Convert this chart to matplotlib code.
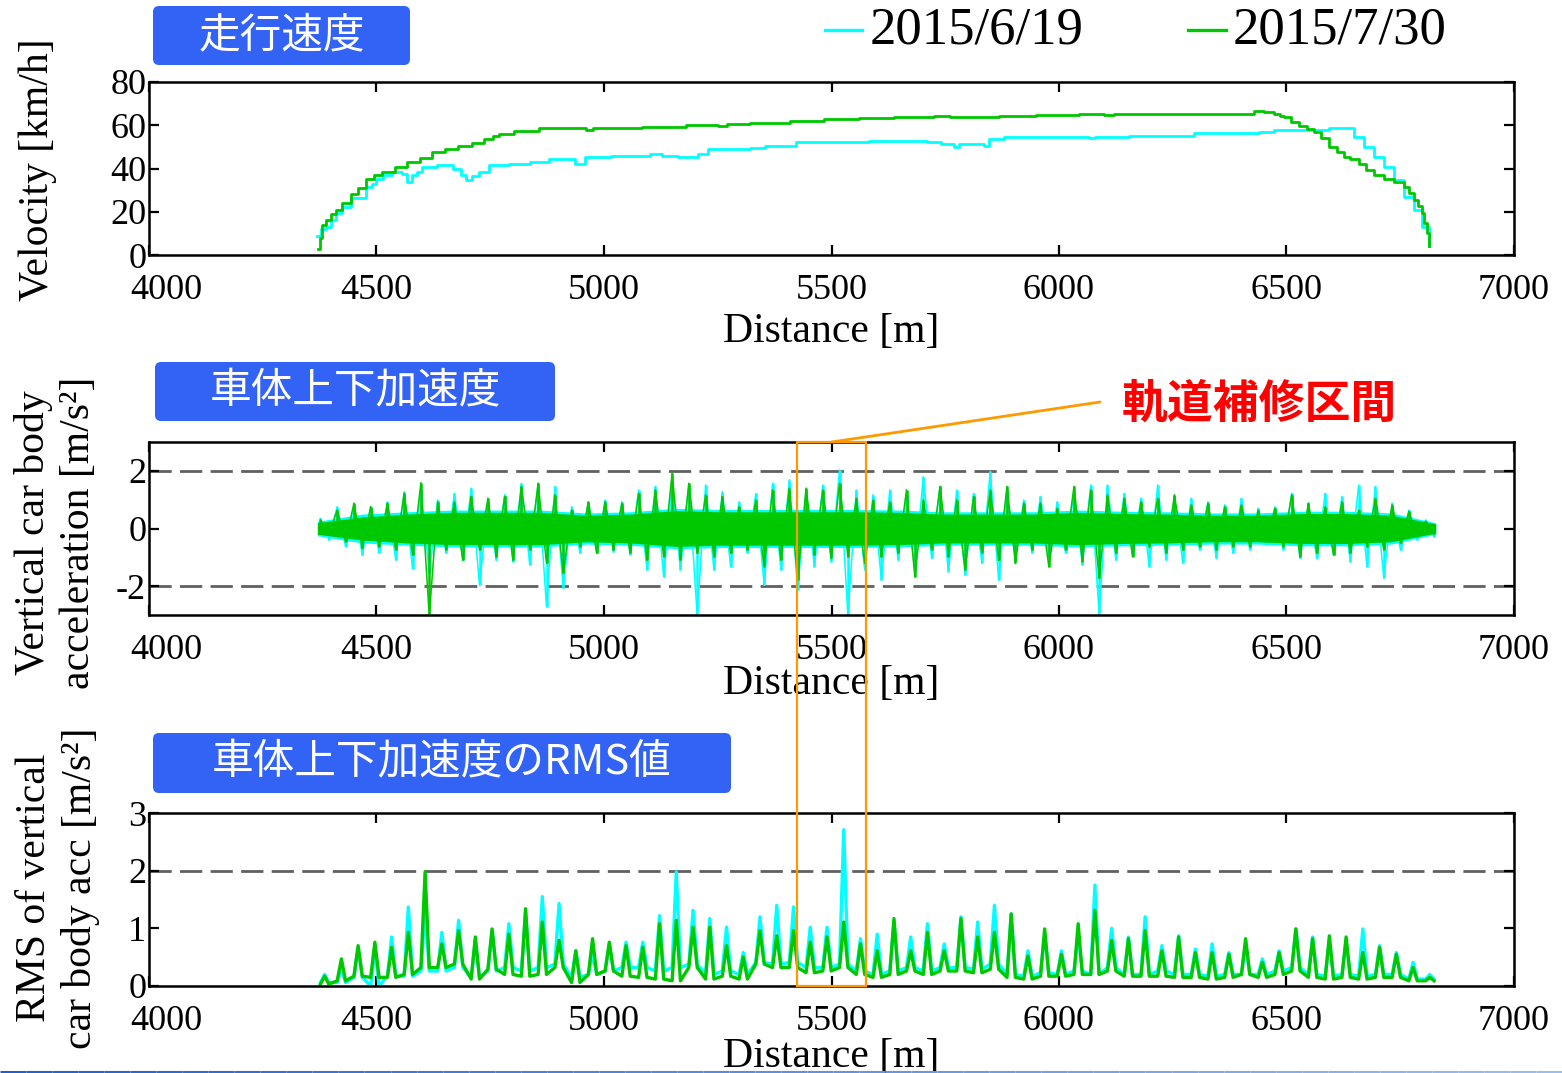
import numpy as np
import matplotlib
matplotlib.use("Agg")
import matplotlib.pyplot as plt
import matplotlib.transforms as mtransforms
from matplotlib.patches import FancyBboxPatch, Rectangle, ConnectionPatch
from matplotlib.lines import Line2D
from matplotlib.collections import LineCollection

plt.rcParams["font.family"] = ["Liberation Serif", "DejaVu Serif"]
plt.rcParams["axes.unicode_minus"] = False
CJK = ["Noto Sans CJK JP", "DejaVu Sans"]

# ---------------- data ----------------
series_labels = ["2015/6/19", "2015/7/30"]
x_ticks = [4000, 4500, 5000, 5500, 6000, 6500, 7000]

# running speed [km/h] at distance [m] (stepwise record)
vel_jun_dist = [4370, 4378, 4388, 4400, 4410, 4425, 4444, 4455, 4465, 4477, 4490, 4500, 4515,
                4533, 4555, 4567, 4578, 4590, 4600, 4634, 4668, 4685, 4697, 4710, 4725, 4747,
                4792, 4837, 4880, 4925, 4936, 4959, 5015, 5100, 5128, 5162, 5207, 5229, 5297,
                5320, 5353, 5385, 5421, 5445, 5480, 5582, 5692, 5710, 5740, 5769, 5780, 5835,
                5846, 5879, 6044, 6066, 6080, 6154, 6264, 6297, 6429, 6440, 6473, 6571, 6593,
                6626, 6648, 6670, 6692, 6714, 6736, 6758, 6780, 6797, 6813]
vel_jun = [9, 12, 13, 16, 19.3, 22, 26.2, 26.5, 26.5, 31.5, 33, 35.3, 37, 38.4, 37.6, 33.8,
           36.9, 38.5, 40.7, 41.4, 39.9, 37, 34.9, 36.5, 38.4, 41.4, 42.2, 43, 44.5, 44.5, 42.2,
           45.3, 46, 46.5, 46, 45.3, 46.8, 49.1, 49.1, 49.6, 50.6, 50.6, 52.1, 52.1, 52.3, 52.9,
           52.9, 52.4, 51.5, 49.8, 51.2, 50.6, 53.7, 54.4, 54.4, 53.9, 54.6, 55.2, 55.2, 56.3,
           56.3, 56.8, 57.8, 57.8, 58.7, 58.7, 54.4, 49.8, 45.2, 40.7, 34.6, 26.9, 20.8, 13.1, 4]

vel_jul_dist = [4372, 4375, 4380, 4388, 4400, 4410, 4425, 4444, 4460, 4477, 4495, 4511, 4540,
                4567, 4595, 4623, 4650, 4680, 4710, 4736, 4755, 4769, 4803, 4858, 4950, 4960,
                4975, 5083, 5160, 5180, 5240, 5250, 5270, 5320, 5409, 5484, 5560, 5637, 5725,
                5760, 5868, 5900, 5950, 6044, 6080, 6100, 6120, 6198, 6300, 6418, 6429, 6450,
                6473, 6485, 6495, 6510, 6527, 6545, 6560, 6575, 6593, 6610, 6626, 6640, 6659,
                6675, 6692, 6715, 6736, 6758, 6770, 6780, 6790, 6797, 6803, 6808, 6813]
vel_jul = [3, 8, 14, 16, 19, 21, 24, 28, 31, 35, 37, 38.4, 40.5, 43, 45, 47.5, 49, 50.6, 52,
           53.7, 55, 56, 57.5, 58.6, 58.6, 58, 58.6, 59, 59.3, 60, 60.3, 59.8, 60.5, 61, 61.8,
           62.9, 63.3, 63.6, 64.1, 63.8, 64.1, 64.4, 64.6, 65.1, 65.3, 64.9, 65.2, 65.0, 65.0,
           65.0, 66.7, 66.2, 65.0, 64.2, 63.6, 61.5, 59.8, 58.4, 56.7, 54, 49.8, 47.5, 45.3,
           44.5, 42.2, 39.5, 36.9, 35, 33.8, 31.5, 28.5, 25.4, 22.5, 19.4, 15, 10, 4]

# vertical car-body acceleration: positive / negative peaks per ~37 m block [m/s^2]
acc_jun_pos = [.35, .76, .80, .76, .93, 1.28, 1.34, .99, 1.22, 1.40, .88, 1.17, 1.57, 1.57,
               1.46, .76, .93, .99, .93, 1.34, 1.46, 1.57, 1.51, 1.51, 1.28, .93, 1.22, 1.57,
               1.69, 1.34, 1.51, 2.03, 1.34, 1.17, 1.34, 1.17, 1.80, 1.46, 1.34, 1.22, 1.98,
               1.34, .99, 1.11, .93, 1.22, 1.51, 1.51, 1.22, 1.05, 1.51, 1.11, 1.05, .93, .82,
               1.05, .70, .76, 1.22, .88, 1.22, 1.11, 1.51, 1.46, .88, .64, .30]
acc_jun_neg = [-.40, -.63, -.92, -.86, -1.10, -1.39, -1.56, -.86, -1.10, -1.97, -1.10, -1.15,
               -1.27, -2.72, -2.08, -.86, -.86, -.81, -.92, -1.44, -1.68, -1.44, -3.05, -1.44,
               -1.33, -.86, -1.97, -1.44, -2.14, -1.33, -1.15, -3.05, -1.44, -1.79, -1.10,
               -1.44, -1.04, -1.50, -1.62, -1.21, -1.79, -1.10, -.86, -.98, -.86, -1.27, -2.95,
               -1.10, -.92, -1.33, -1.10, -1.21, -.75, -1.04, -.86, -.75, -.57, -.75, -1.04,
               -1.04, -.92, -1.15, -1.33, -1.73, -.75, -.40, -.30]
acc_jul_pos = [.30, .64, .88, .76, .88, 1.22, 1.59, .93, .93, 1.11, 1.05, 1.11, 1.46, 1.57,
               1.17, .64, .93, .93, .88, 1.22, 1.34, 1.92, 1.57, 1.17, 1.11, .76, .99, 1.34,
               1.40, 1.40, 1.34, 1.57, 1.05, .99, .93, 1.34, .99, 1.46, .99, 1.11, 1.34, 1.46,
               .88, .88, .70, 1.46, 1.34, 1.17, 1.05, .93, 1.05, 1.17, .82, .88, .76, .82, .64,
               .70, 1.17, .88, .76, .93, .64, 1.05, .82, .59, .25]
acc_jul_neg = [-.23, -.46, -.69, -.63, -.75, -.92, -3.05, -.75, -1.10, -.75, -.98, -1.10,
               -.75, -1.21, -1.56, -.63, -.86, -.75, -.86, -1.10, -.98, -1.10, -.86, -.98,
               -.86, -.75, -1.33, -1.10, -1.79, -.92, -1.04, -.98, -1.21, -.98, -.86, -1.68,
               -.75, -.98, -1.44, -.86, -1.10, -1.21, -.75, -1.33, -.75, -1.15, -1.73, -.86,
               -.98, -.63, -.86, -.75, -.63, -.75, -.63, -.63, -.46, -.63, -.98, -.86, -.92,
               -.86, -.63, -.75, -.52, -.28, -.20]
# half-width of the continuous vibration band, every ~98 m [m/s^2]
band_jun = [.25, .50, .58, .64, .64, .64, .54, .58, .70, .66, .66, .66, .66, .64, .58, .58,
            .58, .64, .60, .58, .54, .54, .60, .60, .54, .20]
band_jul = [.20, .40, .50, .56, .56, .56, .46, .50, .62, .58, .58, .58, .58, .56, .50, .50,
            .50, .56, .52, .50, .46, .46, .52, .52, .46, .16]

# RMS of vertical car-body acceleration: local maxima / minima per ~37 m block [m/s^2]
rms_jun_hi = [.20, .32, .67, .64, .85, 1.37, 1.31, .93, 1.14, .79, .96, 1.08, 1.28, 1.55,
              1.43, .61, .55, .73, .76, .76, 1.22, 1.98, 1.31, 1.17, 1.02, .58, 1.20, 1.40,
              1.37, 1.02, 1.02, 2.71, .82, .90, 1.11, .85, 1.08, .73, 1.20, 1.11, 1.40, 1.25,
              .61, .90, .61, .87, 1.75, 1.00, .85, 1.20, .70, .87, .64, .73, .58, .73, .47,
              .61, .99, .85, .79, .76, .99, .70, .58, .41, .20]
rms_jun_lo = [.06, .06, .15, .00, .17, .17, .26, .26, .32, .15, .26, .32, .26, .32, .38, .15,
              .20, .26, .32, .32, .26, .32, .38, .20, .26, .20, .41, .38, .41, .32, .32, .38,
              .26, .20, .26, .32, .26, .32, .32, .29, .38, .20, .17, .23, .20, .26, .20, .32,
              .20, .20, .26, .20, .20, .17, .20, .20, .20, .26, .32, .20, .17, .20, .17, .20,
              .20, .12, .12]
rms_jul_hi = [.17, .47, .70, .76, .67, .93, 1.98, .73, .96, .85, .99, .90, 1.34, 1.11, .79,
              .61, .82, .76, .70, .67, 1.08, 1.14, 1.02, 1.02, .70, .50, .96, .87, .96, .76,
              .85, 1.11, .73, .61, 1.17, .61, .93, .61, 1.17, .85, .93, 1.25, .52, .99, .55,
              1.08, 1.31, .79, .82, .96, .61, .85, .58, .58, .55, .82, .41, .58, .99, .82, .87,
              .85, .58, .67, .55, .32, .15]
rms_jul_lo = [.03, .09, .17, .15, .15, .20, .32, .32, .38, .12, .29, .20, .17, .20, .32, .06,
              .20, .26, .17, .15, .12, .09, .32, .12, .17, .12, .38, .32, .32, .23, .26, .32,
              .20, .15, .20, .26, .20, .26, .26, .23, .29, .15, .12, .17, .17, .20, .20, .26,
              .17, .17, .17, .15, .15, .12, .15, .20, .15, .20, .26, .15, .12, .15, .12, .15,
              .15, .09, .09]

repair_section = (5425, 5576)   # track repair section [m]

C_JUN = "#00FFFF"
C_JUL = "#00C800"

# ---------------- figure ----------------
W, H = 1562, 1073
fig = plt.figure(figsize=(W / 100, H / 100), dpi=100)


def frac_rect(x0, x1, ytop, ybot):
    return [x0 / W, 1 - ybot / H, (x1 - x0) / W, (ybot - ytop) / H]


ax1 = fig.add_axes(frac_rect(149, 1514, 82, 255))
ax2 = fig.add_axes(frac_rect(149, 1514, 442, 615))
ax3 = fig.add_axes(frac_rect(149, 1514, 813, 986))

shift_first = mtransforms.ScaledTranslation(17 / 100, 0, fig.dpi_scale_trans)
for ax, lp in ((ax1, 4), (ax2, -2), (ax3, -1)):
    ax.set_xlim(4000, 7000)
    ax.set_xticks(x_ticks)
    ax.tick_params(direction="in", length=7, width=1.6, top=True, right=True,
                   labelsize=26, color="black")
    ax.tick_params(axis="x", pad=14)
    ax.tick_params(axis="y", pad=2)
    for s in ax.spines.values():
        s.set_linewidth(1.8)
    ax.set_xlabel("Distance [m]", fontsize=30, labelpad=lp)
    first = ax.get_xticklabels()[0]
    first.set_transform(first.get_transform() + shift_first)

# --- velocity ---
ax1.set_ylim(0, 80)
ax1.set_yticks([0, 20, 40, 60, 80])
ax1.plot(vel_jun_dist, vel_jun, color=C_JUN, lw=2.0, drawstyle="steps-post")
ax1.plot(vel_jul_dist, vel_jul, color=C_JUL, lw=2.0, drawstyle="steps-post")

# --- acceleration ---
ax2.set_ylim(-3, 3)
ax2.set_yticks([-2, 0, 2])
for yv in (2, -2):
    ax2.axhline(yv, color="#606060", lw=2.0, dashes=(8, 3), zorder=1)

nblk = len(acc_jun_pos)
blk = np.linspace(4386, 6815, nblk)
q = (blk[1] - blk[0]) / 4
zig_x = np.column_stack((blk - q, blk + q)).ravel()
band_x = np.linspace(4370, 6828, len(band_jun))

for band, pos, neg, col in ((band_jun, acc_jun_pos, acc_jun_neg, C_JUN),
                            (band_jul, acc_jul_pos, acc_jul_neg, C_JUL)):
    b = np.array(band)
    ax2.fill_between(band_x, -b, b, color=col, lw=0, zorder=2)
    ax2.plot(zig_x, np.column_stack((pos, neg)).ravel(), color=col, lw=1.1, zorder=2)
    ax2.vlines(blk - q, 0, pos, color=col, lw=1.8, zorder=2)
    ax2.vlines(blk + q, neg, 0, color=col, lw=1.8, zorder=2)

# --- RMS ---
ax3.set_ylim(0, 3)
ax3.set_yticks([0, 1, 2, 3])
ax3.axhline(2, color="#606060", lw=2.0, dashes=(8, 3), zorder=1)
tri_x = np.column_stack((blk - q, blk, blk + q)).ravel()
for hi, lo, col in ((rms_jun_hi, rms_jun_lo, C_JUN), (rms_jul_hi, rms_jul_lo, C_JUL)):
    tri_y = np.column_stack((lo, hi, lo)).ravel()
    ax3.plot(tri_x, tri_y, color=col, lw=2.4, zorder=2)

# --- y labels ---
fig.text(38 / W, 1 - 170 / H, "Velocity [km/h]", rotation=90, ha="center", va="center",
         fontsize=30)
fig.text(56 / W, 1 - 533 / H, "Vertical car body\nacceleration [m/s²]", rotation=90,
         ha="center", va="center", fontsize=30, linespacing=1.25, multialignment="center")
fig.text(58 / W, 1 - 888 / H, "RMS of vertical\ncar body acc [m/s²]", rotation=90,
         ha="center", va="center", fontsize=30, linespacing=1.25, multialignment="center")

# --- blue title tags ---
px = fig.dpi_scale_trans


def tag(x0, x1, ytop, ybot, text):
    box = FancyBboxPatch((x0 / 100, (H - ybot) / 100), (x1 - x0) / 100, (ybot - ytop) / 100,
                         boxstyle="round,pad=0,rounding_size=0.06", transform=px,
                         fc="#3363F5", ec="none", zorder=5)
    fig.add_artist(box)
    fig.text((x0 + x1) / 2 / W, 1 - (ytop + ybot) / 2 / H, text, ha="center", va="center",
             color="white", fontsize=30, family=CJK, zorder=6)


tag(153, 410, 6, 65, "走行速度")
tag(155, 555, 362, 421, "車体上下加速度")
tag(153, 731, 733, 793, "車体上下加速度のRMS値")

# --- legend ---
for (lx0, lx1, tx), lab, col in (((825, 862, 870), series_labels[0], C_JUN),
                                  ((1188, 1226, 1233), series_labels[1], C_JUL)):
    fig.add_artist(Line2D([lx0 / W, lx1 / W], [1 - 30 / H, 1 - 30 / H], color=col, lw=2.4,
                          transform=fig.transFigure))
    fig.text(tx / W, 1 - 30 / H, lab, ha="left", va="center", fontsize=38)

# --- track repair section ---
blend = mtransforms.blended_transform_factory(ax2.transData, fig.transFigure)
y_bot = ax3.get_position().y0
y_top = ax2.get_position().y1
fig.add_artist(Rectangle((repair_section[0], y_bot), repair_section[1] - repair_section[0],
                         y_top - y_bot, transform=blend, fill=False, ec="#FF9900", lw=1.6,
                         zorder=10, clip_on=False))
con = ConnectionPatch(xyA=(sum(repair_section) / 2, 3), coordsA=ax2.transData,
                      xyB=(1100 / W, 1 - 402 / H), coordsB=fig.transFigure,
                      color="#FF9900", lw=2.0, zorder=10)
fig.add_artist(con)
fig.text(1259 / W, 1 - 405 / H, "軌道補修区間", ha="center", va="center", color="#FF0000",
         fontsize=33, fontweight="bold", family=CJK)

# --- thin rule along the bottom edge ---
nseg = 60
xs = np.linspace(0, 1, nseg + 1)
segs = [[(xs[i], 1.5 / H), (xs[i + 1], 1.5 / H)] for i in range(nseg)]
c0 = np.array([0.12, 0.38, 0.80])
c1 = np.array([0.62, 0.75, 0.93])
cols = [tuple(c0 + (c1 - c0) * (i / nseg)) for i in range(nseg)]
fig.add_artist(LineCollection(segs, colors=cols, linewidths=2.2, transform=fig.transFigure))

fig.savefig("out.png", dpi=100)
